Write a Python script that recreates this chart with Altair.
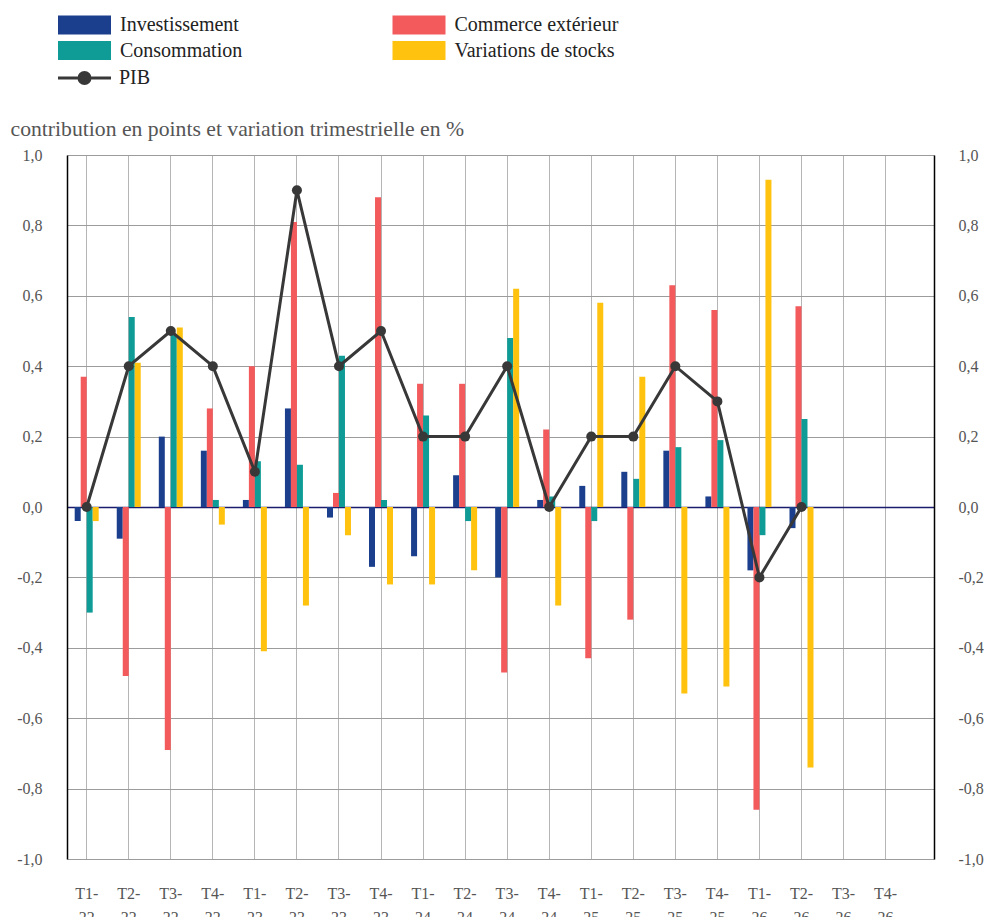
import altair as alt
import pandas as pd

categories = ["T1-22", "T2-22", "T3-22", "T4-22", "T1-23", "T2-23", "T3-23", "T4-23",
              "T1-24", "T2-24", "T3-24", "T4-24", "T1-25", "T2-25", "T3-25", "T4-25",
              "T1-26", "T2-26", "T3-26", "T4-26"]

investissement = [-0.04, -0.09, 0.20, 0.16, 0.02, 0.28, -0.03, -0.17, -0.14, 0.09,
                  -0.20, 0.02, 0.06, 0.10, 0.16, 0.03, -0.18, -0.06, None, None]
commerce = [0.37, -0.48, -0.69, 0.28, 0.40, 0.81, 0.04, 0.88, 0.35, 0.35,
            -0.47, 0.22, -0.43, -0.32, 0.63, 0.56, -0.86, 0.57, None, None]
consommation = [-0.30, 0.54, 0.49, 0.02, 0.13, 0.12, 0.43, 0.02, 0.26, -0.04,
                0.48, 0.03, -0.04, 0.08, 0.17, 0.19, -0.08, 0.25, None, None]
stocks = [-0.04, 0.41, 0.51, -0.05, -0.41, -0.28, -0.08, -0.22, -0.22, -0.18,
          0.62, -0.28, 0.58, 0.37, -0.53, -0.51, 0.93, -0.74, None, None]
pib = [0.0, 0.4, 0.5, 0.4, 0.1, 0.9, 0.4, 0.5, 0.2, 0.2,
       0.4, 0.0, 0.2, 0.2, 0.4, 0.3, -0.2, 0.0, None, None]

# order of the bars inside each quarter
series_names = ["Investissement", "Commerce extérieur", "Consommation", "Variations de stocks"]
series_values = [investissement, commerce, consommation, stocks]
# order of the legend entries (laid out column by column)
legend_names = ["Investissement", "Consommation", "Commerce extérieur", "Variations de stocks"]
legend_colors = ["#1B3F8C", "#0F9C96", "#F25A5C", "#FFC20F"]
y_ticks = [-1.0, -0.8, -0.6, -0.4, -0.2, 0.0, 0.2, 0.4, 0.6, 0.8, 1.0]

FONT = "'Liberation Serif', 'Times New Roman', Times, 'DejaVu Serif', serif"
PIB_COLOR = "#383838"
ZERO_COLOR = "#1C1C6E"

rows = []
for name, vals in zip(series_names, series_values):
    for c, v in zip(categories, vals):
        rows.append({"trimestre": c, "serie": name, "valeur": v})
bars_df = pd.DataFrame(rows)
pib_df = pd.DataFrame({"trimestre": categories, "serie": ["PIB"] * len(categories), "valeur": pib})

x_enc = alt.X(
    "trimestre:N",
    sort=categories,
    scale=alt.Scale(domain=categories, paddingInner=0.144, paddingOuter=0.382, align=0.053),
    axis=alt.Axis(
        title=None, labelAngle=0, domain=False, ticks=False, grid=True, bandPosition=0.5,
        gridColor="#b5b5b5", gridWidth=1, labelFontSize=16, labelColor="#555555",
        labelFont=FONT, labelPadding=26, labelLineHeight=24, labelBaseline="top",
        labelExpr="[slice(datum.label, 0, 3), slice(datum.label, 3)]",
    ),
)

y_scale = alt.Scale(domain=[-1, 1], nice=False, zero=False)
label_expr = "(datum.value < 0 ? '-' : '') + replace(format(abs(datum.value), '.1f'), '.', ',')"

y_left = alt.Y(
    "valeur:Q",
    scale=y_scale,
    axis=alt.Axis(
        orient="left", values=y_ticks, grid=True,
        gridColor={"condition": {"test": "datum.value === 0", "value": ZERO_COLOR}, "value": "#9c9c9c"},
        gridWidth={"condition": {"test": "datum.value === 0", "value": 1.6}, "value": 1},
        ticks=False, domain=True, domainColor="#000000", domainWidth=1.5,
        labelExpr=label_expr, labelFontSize=16, labelColor="#555555", labelFont=FONT,
        labelPadding=25,
        title="contribution en points et variation trimestrielle en %",
        titleAngle=0, titleX=-57, titleY=-27, titleAlign="left", titleBaseline="middle",
        titleFontSize=21.7, titleFontWeight="normal", titleColor="#555555", titleFont=FONT,
    ),
)

y_right = alt.Y(
    "valeur:Q",
    scale=y_scale,
    axis=alt.Axis(
        orient="right", values=y_ticks, grid=False, ticks=False, domain=True,
        domainColor="#000000", domainWidth=1.5, labelExpr=label_expr,
        labelFontSize=16, labelColor="#555555", labelFont=FONT, labelPadding=24,
        title=None,
    ),
)

bars = alt.Chart(bars_df).mark_bar().encode(
    x=x_enc,
    xOffset=alt.XOffset("serie:N", sort=series_names,
                        scale=alt.Scale(domain=series_names, paddingInner=0, paddingOuter=1)),
    y=y_left,
    color=alt.Color(
        "serie:N",
        scale=alt.Scale(domain=legend_names, range=legend_colors),
        legend=alt.Legend(
            title=None, orient="none", legendX=7.5, legendY=-140, columns=2,
            columnPadding=149.5, rowPadding=5.5, padding=0,
            symbolType="M-2.65,-0.95H2.65V0.95H-2.65Z", symbolSize=400, symbolStrokeWidth=0,
            symbolOpacity=1, labelFont=FONT, labelFontSize=20, labelColor="#222222",
            labelOffset=25.5, labelLimit=400,
        ),
    ),
)

line = alt.Chart(pib_df).mark_line(strokeWidth=3).encode(
    x=x_enc,
    y=y_right,
    stroke=alt.Stroke(
        "serie:N",
        scale=alt.Scale(domain=["PIB"], range=[PIB_COLOR]),
        legend=alt.Legend(
            title=None, orient="none", legendX=6, legendY=-88.5, padding=0,
            symbolType="M-2.65,0H2.65M0.55,0A0.55,0.55,0,1,1,-0.55,0A0.55,0.55,0,1,1,0.55,0Z",
            symbolSize=400, symbolStrokeWidth=3, symbolFillColor=PIB_COLOR,
            symbolStrokeColor=PIB_COLOR, labelFont=FONT, labelFontSize=20,
            labelColor="#222222", labelOffset=23,
        ),
    ),
)

points = alt.Chart(pib_df).mark_circle(size=100, opacity=1, color=PIB_COLOR).encode(
    x=x_enc,
    y=alt.Y("valeur:Q", scale=y_scale, axis=None),
)

chart = (
    alt.layer(bars, line, points)
    .resolve_axis(y="independent")
    .properties(
        width=867, height=704,
        autosize=alt.AutoSizeParams(type="none"),
        padding={"left": 59, "top": 147, "right": 52, "bottom": 62},
    )
    .configure(font=FONT)
    .configure_view(strokeWidth=0)
)

chart.save("out.html", embed_options={"renderer": "svg", "actions": False})
